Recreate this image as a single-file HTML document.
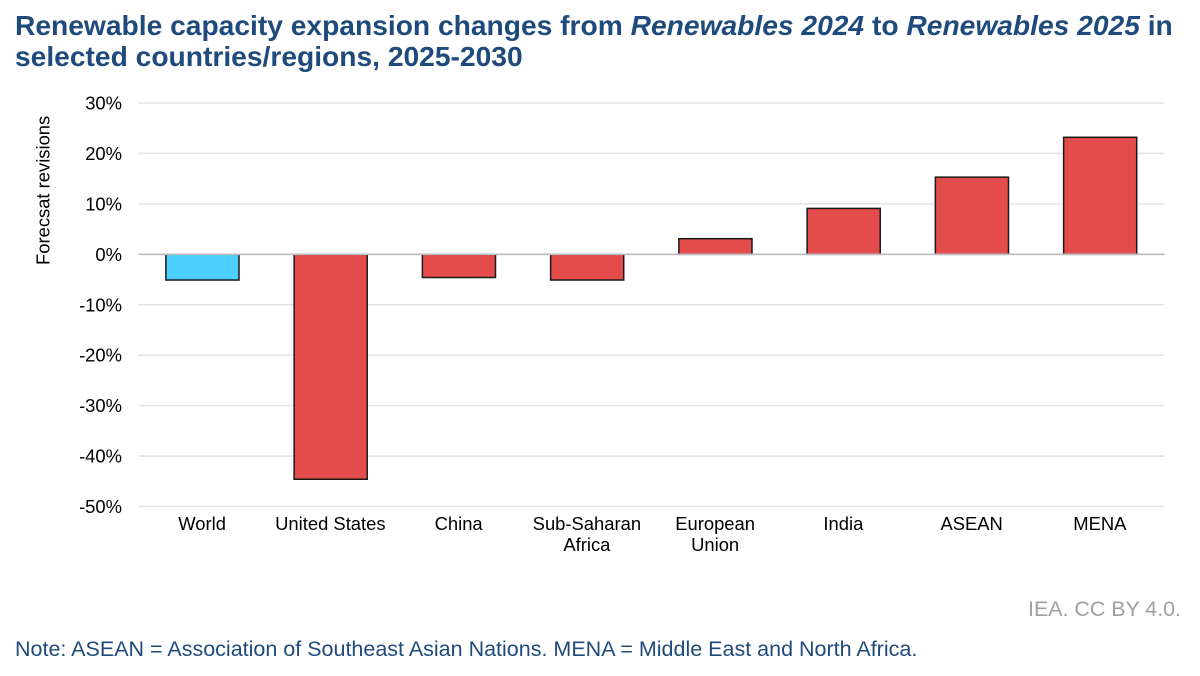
<!DOCTYPE html>
<html lang="en">
<head>
<meta charset="utf-8">
<title>Renewable capacity expansion changes</title>
<style>
html,body{margin:0;padding:0;background:#fff;}
body{width:1200px;height:676px;overflow:hidden;font-family:"Liberation Sans",Arial,sans-serif;}
svg{display:block;position:absolute;left:0;top:0;}
text{font-family:"Liberation Sans",Arial,sans-serif;}
</style>
</head>
<body>
<svg id="chart" xmlns="http://www.w3.org/2000/svg" width="1200" height="676" viewBox="0 0 1200 676">
  <text x="15" y="35" font-size="28.2" font-weight="700" fill="#1f4a7c">Renewable capacity expansion changes from <tspan font-style="italic">Renewables 2024</tspan> to <tspan font-style="italic">Renewables 2025</tspan> in</text>
  <text x="15" y="66" font-size="28.2" font-weight="700" fill="#1f4a7c">selected countries/regions, 2025-2030</text>
  <g id="grid"></g>
  <g id="yticks"></g>
  <text transform="translate(49.5,265) rotate(-90)" font-size="18.4" fill="#000">Forecsat revisions</text>
  <g id="bars"></g>
  <line id="zero" stroke="#bdbdbd" stroke-width="1.6"></line>
  <g id="xlabels"></g>
  <text x="1181" y="616" font-size="21.4" fill="#a0a0a0" text-anchor="end">IEA. CC BY 4.0.</text>
  <text x="15" y="656" font-size="21.5" fill="#1f4a7c">Note: ASEAN = Association of Southeast Asian Nations. MENA = Middle East and North Africa.</text>
</svg>
<script>
const categories = [["World"], ["United States"], ["China"], ["Sub-Saharan", "Africa"], ["European", "Union"], ["India"], ["ASEAN"], ["MENA"]];
const values = [-5.1, -44.6, -4.6, -5.1, 3.1, 9.1, 15.3, 23.2];
const barColors = ["#4dcfff", "#e34c4a", "#e34c4a", "#e34c4a", "#e34c4a", "#e34c4a", "#e34c4a", "#e34c4a"];
const tickValues = [30, 20, 10, 0, -10, -20, -30, -40, -50];

const NS = "http://www.w3.org/2000/svg";
const plotLeft = 138.5, plotRight = 1164.5, y30 = 103, yMinus50 = 506.5;
const yScale = v => y30 + (30 - v) * (yMinus50 - y30) / 80;
const band = (plotRight - plotLeft) / categories.length;
const xCenter = i => plotLeft + band * (i + 0.5) - 0.2;
const barWidth = band * 0.57;

function make(tag, attrs, parent) {
  const el = document.createElementNS(NS, tag);
  for (const k in attrs) el.setAttribute(k, attrs[k]);
  parent.appendChild(el);
  return el;
}

const grid = document.getElementById("grid");
const yticks = document.getElementById("yticks");
tickValues.forEach(t => {
  const y = yScale(t);
  const line = make("line", {x1: plotLeft, x2: plotRight, y1: y, y2: y, stroke: "#e3e3e3", "stroke-width": 1.6}, grid);
  
  
  const label = make("text", {x: 122, y: y + 6.5, "font-size": 18.4, "text-anchor": "end", fill: "#000"}, yticks);
  label.textContent = t + "%";
  
  
});

const bars = document.getElementById("bars");
values.forEach((v, i) => {
  const y0 = yScale(0), yv = yScale(v);
  const rect = make("rect", {
    x: xCenter(i) - barWidth / 2,
    y: Math.min(y0, yv),
    width: barWidth,
    height: Math.abs(yv - y0),
    fill: barColors[i],
    stroke: "#1a1a1a",
    "stroke-width": 1.5
  }, bars);
  
  
});

const zero = document.getElementById("zero");
zero.setAttribute("x1", plotLeft);
zero.setAttribute("x2", plotRight);
zero.setAttribute("y1", yScale(0));
zero.setAttribute("y2", yScale(0));

const xlabels = document.getElementById("xlabels");
categories.forEach((lines, i) => {
  lines.forEach((line, j) => {
    const label = make("text", {x: xCenter(i) - 0.3, y: 530 + j * 21, "font-size": 18.4, "text-anchor": "middle", fill: "#000"}, xlabels);
    label.textContent = line;
    
    
  });
});
</script>
</body>
</html>
